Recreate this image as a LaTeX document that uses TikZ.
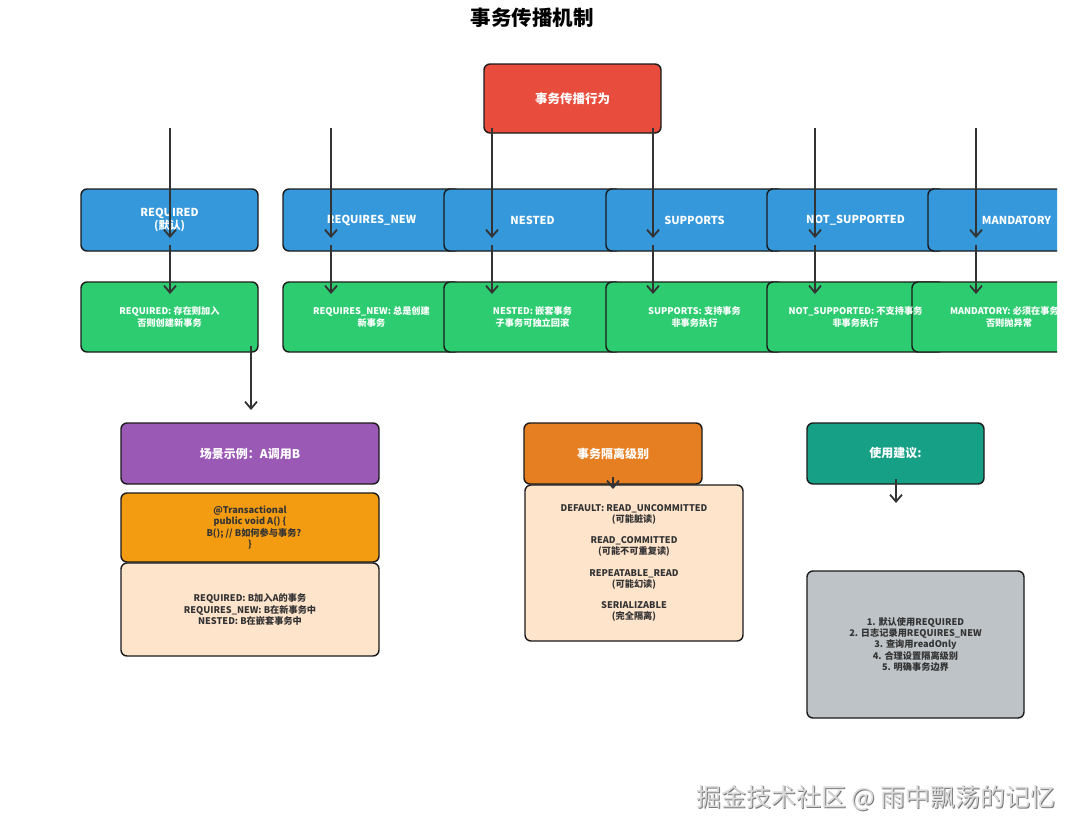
\documentclass[tikz,border=0pt]{standalone}
\usepackage{fontspec}
\setmainfont{Noto Sans CJK SC}
\usetikzlibrary{arrows.meta}
\definecolor{cred}{HTML}{E74C3C}
\definecolor{cblue}{HTML}{3498DB}
\definecolor{cgreen}{HTML}{2ECC71}
\definecolor{cpurple}{HTML}{9B59B6}
\definecolor{corange}{HTML}{F39C12}
\definecolor{cdorange}{HTML}{E67E22}
\definecolor{cpeach}{HTML}{FFE4CC}
\definecolor{cteal}{HTML}{16A085}
\definecolor{cgray}{HTML}{BDC3C7}
\definecolor{cline}{HTML}{333333}
\definecolor{cborder}{HTML}{1A1A1A}
\definecolor{cwm}{HTML}{D9D9D9}
\definecolor{cwmshadow}{HTML}{7A7A7A}
\tikzset{
  box/.style={draw=cborder, line width=1.4pt, rounded corners=6pt, inner sep=0pt, align=center},
  small/.style={font=\bfseries\fontsize{9.2}{11.2}\selectfont},
  mid/.style={font=\bfseries\fontsize{11}{13}\selectfont},
  redbox/.style={box, fill=cred, text=white, minimum width=177pt, minimum height=69pt, font=\bfseries\fontsize{12.5}{15}\selectfont},
  bluebox/.style={box, fill=cblue, text=white, minimum width=177pt, minimum height=62pt, mid},
  greenbox/.style={box, fill=cgreen, text=white, minimum width=177pt, minimum height=70pt, small},
  headbox/.style={box, text=white, minimum height=61pt, font=\bfseries\fontsize{12}{14}\selectfont},
  darkbox/.style={box, text=cline, small},
  arr/.style={draw=cline, line width=1.8pt, -{Straight Barb[length=7pt,width=12pt,line width=1.8pt]}},
}
\begin{document}
\begin{tikzpicture}[x=1pt,y=-1pt]
\useasboundingbox (0,0) rectangle (1080,836);
\begin{scope}
\clip (0,0) rectangle (1057,836);
% title
\node (title) at (532,18) {\bfseries\fontsize{20.5}{24}\selectfont 事务传播机制};
% root
\node[redbox] (root) at (572.5,98.5) {事务传播行为};
% blue row
\node[bluebox] (b1) at (169.5,220) {REQUIRED\\(默认)};
\node[bluebox] (b2) at (371.5,220) {REQUIRES\_NEW};
\node[bluebox] (b3) at (532.5,220) {NESTED};
\node[bluebox] (b4) at (694.5,220) {SUPPORTS};
\node[bluebox] (b5) at (855.5,220) {NOT\_SUPPORTED};
\node[bluebox] (b6) at (1016.5,220) {MANDATORY};
% green row
\node[greenbox] (g1) at (169.5,317) {REQUIRED: 存在则加入\\否则创建新事务};
\node[greenbox] (g2) at (371.5,317) {REQUIRES\_NEW: 总是创建\\新事务};
\node[greenbox] (g3) at (532.5,317) {NESTED: 嵌套事务\\子事务可独立回滚};
\node[greenbox] (g4) at (694.5,317) {SUPPORTS: 支持事务\\非事务执行};
\node[greenbox] (g5) at (855.5,317) {};
\node[greenbox, minimum width=194pt] (g6) at (1009,317) {MANDATORY: 必须在事务中\\否则抛异常};
\node[small, text=white, align=center, inner sep=0pt] (g5text) at (g5.center) {NOT\_SUPPORTED: 不支持事务\\非事务执行};
% scenario column
\node[headbox, fill=cpurple, minimum width=258pt] (scene) at (250,453.5) {场景示例：A调用B};
\node[darkbox, fill=corange, minimum width=258pt, minimum height=69pt] (code) at (250,527.5) {@Transactional\\public void A() \{\\\hspace{8pt}B(); // B如何参与事务?\\\}};
\node[darkbox, fill=cpeach, minimum width=258pt, minimum height=93pt] (res) at (250,609.5) {REQUIRED: B加入A的事务\\REQUIRES\_NEW: B在新事务中\\NESTED: B在嵌套事务中};
% isolation column
\node[headbox, fill=cdorange, minimum width=178pt] (iso) at (613,453.5) {事务隔离级别};
\node[darkbox, fill=cpeach, minimum width=218pt, minimum height=156pt] (isol) at (634,563) {DEFAULT: READ\_UNCOMMITTED\\(可能脏读)\\[10pt]READ\_COMMITTED\\(可能不可重复读)\\[10pt]REPEATABLE\_READ\\(可能幻读)\\[10pt]SERIALIZABLE\\(完全隔离)};
% advice column
\node[headbox, fill=cteal, minimum width=177pt] (adv) at (895.5,453.5) {使用建议:};
\node[darkbox, fill=cgray, minimum width=217pt, minimum height=147pt] (advl) at (915.5,644.5) {1. 默认使用REQUIRED\\2. 日志记录用REQUIRES\_NEW\\3. 查询用readOnly\\4. 合理设置隔离级别\\5. 明确事务边界};
% arrow coordinates
\foreach \i/\x in {1/170,2/331,3/492,4/653,5/815,6/976} {
  \coordinate (s\i) at (\x,128);
  \coordinate (t\i) at (\x,238);
  \coordinate (u\i) at (\x,245);
  \coordinate (v\i) at (\x,294);
}
\foreach \i in {1,...,6} {
  \draw[arr] (s\i) -- (t\i);
  \draw[arr] (u\i) -- (v\i);
}
\coordinate (r1) at (251,346);
\coordinate (r2) at (251,410);
\draw[arr] (r1) -- (r2);
\coordinate (i1) at (613,477);
\coordinate (i2) at (613,489);
\draw[arr] (i1) -- (i2);
\coordinate (a1) at (896,479);
\coordinate (a2) at (896,503);
\draw[arr] (a1) -- (a2);
% watermark
\node[text=cwmshadow] (wmshadow) at (877,799) {\fontsize{25}{29}\selectfont 掘金技术社区 @ 雨中飘荡的记忆};
\node[text=cwm] (wm) at (876,798) {\fontsize{25}{29}\selectfont 掘金技术社区 @ 雨中飘荡的记忆};
\end{scope}
\end{tikzpicture}
\end{document}
